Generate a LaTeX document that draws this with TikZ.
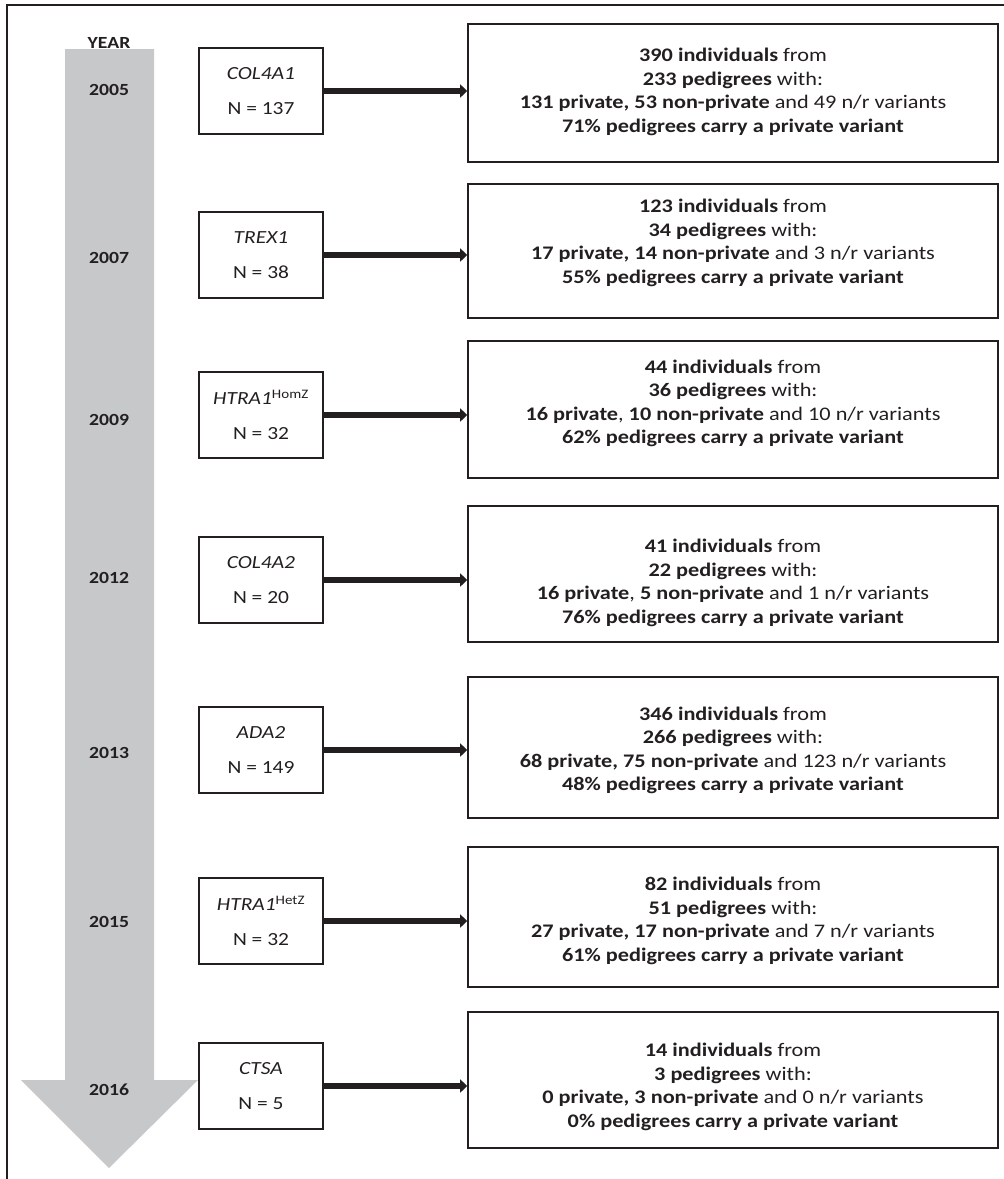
\documentclass[tikz,border=0pt]{standalone}
\usepackage{fontspec}
\setmainfont{Carlito}[FakeStretch=1.16]
\usetikzlibrary{arrows.meta}
\definecolor{ink}{HTML}{231F20}
\definecolor{timegrey}{HTML}{C7C8CA}
\tikzset{
  genebox/.style={draw=ink, line width=1.6pt, minimum width=124pt, minimum height=86pt, inner sep=0pt, align=center, font=\fontsize{18.5}{35}\selectfont, text=ink},
  resbox/.style={draw=ink, line width=1.6pt, minimum width=530pt, inner sep=0pt},
  restext/.style={align=center, inner sep=0pt, font=\fontsize{19.2}{23.5}\selectfont, text=ink},
  yearlab/.style={font=\bfseries\fontsize{17}{19}\selectfont, text=ink},
  link/.style={draw=ink, line width=6pt, -{Triangle[length=7pt,width=13pt]}},
}
\begin{document}
\begin{tikzpicture}[x=1pt,y=-1pt]
\useasboundingbox (0,0) rectangle (1004,1179);
% outer frame (top and left visible)
\draw[ink, line width=1.6pt] (7,1179) -- (7,5) -- (1004,5);
% time arrow
\fill[timegrey] (65,49) -- (154,49) -- (154,1080) -- (198,1080) -- (109,1168) -- (21,1080) -- (65,1080) -- cycle;
\node[yearlab] (yr) at (109,43) {YEAR};
\node[yearlab] (y1) at (109,90) {2005};
\node[yearlab] (y2) at (109,258) {2007};
\node[yearlab] (y3) at (109,420) {2009};
\node[yearlab] (y4) at (109,578) {2012};
\node[yearlab] (y5) at (109,753) {2013};
\node[yearlab] (y6) at (109,922) {2015};
\node[yearlab] (y7) at (109,1090) {2016};
% gene boxes
\node[genebox] (g1) at (261,91) {\textit{COL4A1}\\N = 137};
\node[genebox] (g2) at (261,255) {\textit{TREX1}\\N = 38};
\node[genebox] (g3) at (261,415) {\textit{HTRA1}\textsuperscript{HomZ}\\N = 32};
\node[genebox] (g4) at (261,580) {\textit{COL4A2}\\N = 20};
\node[genebox] (g5) at (261,750) {\textit{ADA2}\\N = 149};
\node[genebox] (g6) at (261,921) {\textit{HTRA1}\textsuperscript{HetZ}\\N = 32};
\node[genebox] (g7) at (261,1086) {\textit{CTSA}\\N = 5};
% result boxes
\node[resbox, minimum height=138pt] (r1) at (733,93) {};
\node[resbox, minimum height=134pt] (r2) at (733,251) {};
\node[resbox, minimum height=137pt] (r3) at (733,409.5) {};
\node[resbox, minimum height=136pt] (r4) at (733,574) {};
\node[resbox, minimum height=141pt] (r5) at (733,747.5) {};
\node[resbox, minimum height=140pt] (r6) at (733,917) {};
\node[resbox, minimum height=136pt] (r7) at (733,1080) {};
\node[restext] (t1) at ([yshift=1pt]r1.center) {\textbf{390 individuals} from\\\textbf{233 pedigrees} with:\\\textbf{131 private, 53 non-private} and 49 n/r variants\\\textbf{71\% pedigrees carry a private variant}};
\node[restext] (t2) at ([yshift=8pt]r2.center) {\textbf{123 individuals} from\\\textbf{34 pedigrees} with:\\\textbf{17 private, 14 non-private} and 3 n/r variants\\\textbf{55\% pedigrees carry a private variant}};
\node[restext] (t3) at ([yshift=6pt]r3.center) {\textbf{44 individuals} from\\\textbf{36 pedigrees} with:\\\textbf{16 private}, \textbf{10 non-private} and 10 n/r variants\\\textbf{62\% pedigrees carry a private variant}};
\node[restext] (t4) at ([yshift=-9pt]r4.center) {\textbf{41 individuals} from\\\textbf{22 pedigrees} with:\\\textbf{16 private}, \textbf{5 non-private} and 1 n/r variants\\\textbf{76\% pedigrees carry a private variant}};
\node[restext] (t5) at ([yshift=-3pt]r5.center) {\textbf{346 individuals} from\\\textbf{266 pedigrees} with:\\\textbf{68 private, 75 non-private} and 123 n/r variants\\\textbf{48\% pedigrees carry a private variant}};
\node[restext] (t6) at ([yshift=-4pt]r6.center) {\textbf{82 individuals} from\\\textbf{51 pedigrees} with:\\\textbf{27 private, 17 non-private} and 7 n/r variants\\\textbf{61\% pedigrees carry a private variant}};
\node[restext] (t7) at ([yshift=-7pt]r7.center) {\textbf{14 individuals} from\\\textbf{3 pedigrees} with:\\\textbf{0 private, 3 non-private} and 0 n/r variants\\\textbf{0\% pedigrees carry a private variant}};
% connectors
\foreach \i in {1,...,7} {
  \draw[link] (g\i.east) -- (g\i.east -| r\i.west);
}
\end{tikzpicture}
\end{document}
